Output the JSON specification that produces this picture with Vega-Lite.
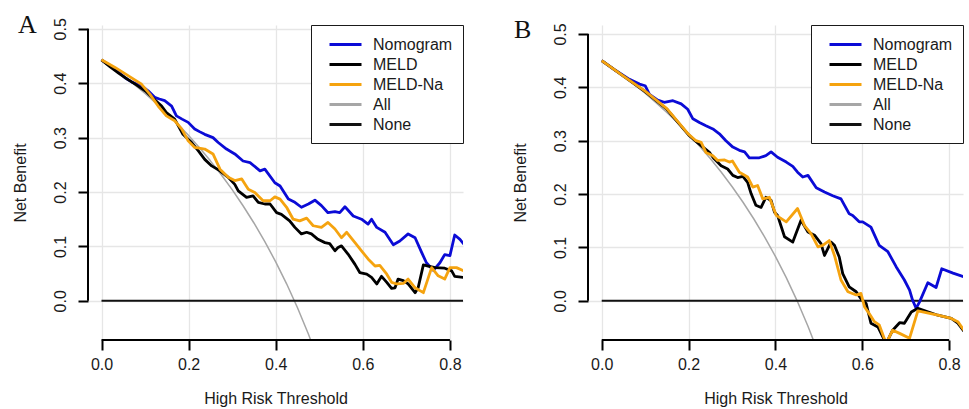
{
  "$schema": "https://vega.github.io/schema/vega-lite/v6.json",
  "background": "white",
  "padding": {"left": 12, "top": 11, "right": 5, "bottom": 2},
  "datasets": {
    "A": [
      {"s":"All","t":0,"v":0.443},{"s":"All","t":0.025,"v":0.4287},{"s":"All","t":0.05,"v":0.4137},{"s":"All","t":0.075,"v":0.3978},{"s":"All","t":0.1,"v":0.3811},{"s":"All","t":0.125,"v":0.3634},{"s":"All","t":0.15,"v":0.3447},{"s":"All","t":0.175,"v":0.3249},{"s":"All","t":0.2,"v":0.3038},{"s":"All","t":0.225,"v":0.2813},{"s":"All","t":0.25,"v":0.2573},{"s":"All","t":0.275,"v":0.2317},{"s":"All","t":0.3,"v":0.2043},{"s":"All","t":0.325,"v":0.1748},{"s":"All","t":0.35,"v":0.1431},{"s":"All","t":0.375,"v":0.1088},{"s":"All","t":0.4,"v":0.0717},{"s":"All","t":0.425,"v":0.0313},{"s":"All","t":0.45,"v":-0.0127},{"s":"All","t":0.475,"v":-0.061},{"s":"All","t":0.5,"v":-0.114},
      {"s":"None","t":0,"v":0},{"s":"None","t":0.83,"v":0},
      {"s":"Nomogram","t":0,"v":0.443},{"s":"Nomogram","t":0.02,"v":0.432},{"s":"Nomogram","t":0.04,"v":0.42},{"s":"Nomogram","t":0.054,"v":0.41},{"s":"Nomogram","t":0.07,"v":0.402},{"s":"Nomogram","t":0.092,"v":0.395},{"s":"Nomogram","t":0.107,"v":0.386},{"s":"Nomogram","t":0.122,"v":0.374},{"s":"Nomogram","t":0.133,"v":0.371},{"s":"Nomogram","t":0.145,"v":0.368},{"s":"Nomogram","t":0.161,"v":0.358},{"s":"Nomogram","t":0.172,"v":0.34},{"s":"Nomogram","t":0.185,"v":0.334},{"s":"Nomogram","t":0.199,"v":0.328},{"s":"Nomogram","t":0.214,"v":0.316},{"s":"Nomogram","t":0.225,"v":0.311},{"s":"Nomogram","t":0.237,"v":0.306},{"s":"Nomogram","t":0.256,"v":0.3},{"s":"Nomogram","t":0.268,"v":0.291},{"s":"Nomogram","t":0.287,"v":0.279},{"s":"Nomogram","t":0.306,"v":0.27},{"s":"Nomogram","t":0.325,"v":0.257},{"s":"Nomogram","t":0.341,"v":0.254},{"s":"Nomogram","t":0.364,"v":0.239},{"s":"Nomogram","t":0.375,"v":0.242},{"s":"Nomogram","t":0.398,"v":0.217},{"s":"Nomogram","t":0.41,"v":0.211},{"s":"Nomogram","t":0.429,"v":0.187},{"s":"Nomogram","t":0.444,"v":0.181},{"s":"Nomogram","t":0.459,"v":0.172},{"s":"Nomogram","t":0.475,"v":0.178},{"s":"Nomogram","t":0.49,"v":0.185},{"s":"Nomogram","t":0.505,"v":0.175},{"s":"Nomogram","t":0.52,"v":0.162},{"s":"Nomogram","t":0.536,"v":0.164},{"s":"Nomogram","t":0.547,"v":0.162},{"s":"Nomogram","t":0.559,"v":0.173},{"s":"Nomogram","t":0.578,"v":0.156},{"s":"Nomogram","t":0.597,"v":0.15},{"s":"Nomogram","t":0.612,"v":0.141},{"s":"Nomogram","t":0.62,"v":0.15},{"s":"Nomogram","t":0.632,"v":0.135},{"s":"Nomogram","t":0.651,"v":0.126},{"s":"Nomogram","t":0.67,"v":0.103},{"s":"Nomogram","t":0.685,"v":0.11},{"s":"Nomogram","t":0.704,"v":0.123},{"s":"Nomogram","t":0.72,"v":0.116},{"s":"Nomogram","t":0.735,"v":0.089},{"s":"Nomogram","t":0.746,"v":0.07},{"s":"Nomogram","t":0.762,"v":0.056},{"s":"Nomogram","t":0.777,"v":0.07},{"s":"Nomogram","t":0.788,"v":0.085},{"s":"Nomogram","t":0.8,"v":0.083},{"s":"Nomogram","t":0.811,"v":0.121},{"s":"Nomogram","t":0.823,"v":0.113},{"s":"Nomogram","t":0.832,"v":0.104},
      {"s":"MELD","t":0,"v":0.443},{"s":"MELD","t":0.02,"v":0.43},{"s":"MELD","t":0.04,"v":0.418},{"s":"MELD","t":0.06,"v":0.407},{"s":"MELD","t":0.08,"v":0.397},{"s":"MELD","t":0.1,"v":0.386},{"s":"MELD","t":0.119,"v":0.372},{"s":"MELD","t":0.138,"v":0.358},{"s":"MELD","t":0.149,"v":0.346},{"s":"MELD","t":0.168,"v":0.334},{"s":"MELD","t":0.187,"v":0.306},{"s":"MELD","t":0.207,"v":0.291},{"s":"MELD","t":0.222,"v":0.276},{"s":"MELD","t":0.237,"v":0.26},{"s":"MELD","t":0.253,"v":0.248},{"s":"MELD","t":0.272,"v":0.239},{"s":"MELD","t":0.291,"v":0.227},{"s":"MELD","t":0.306,"v":0.214},{"s":"MELD","t":0.314,"v":0.202},{"s":"MELD","t":0.333,"v":0.19},{"s":"MELD","t":0.348,"v":0.193},{"s":"MELD","t":0.36,"v":0.181},{"s":"MELD","t":0.375,"v":0.178},{"s":"MELD","t":0.387,"v":0.178},{"s":"MELD","t":0.402,"v":0.162},{"s":"MELD","t":0.413,"v":0.159},{"s":"MELD","t":0.432,"v":0.147},{"s":"MELD","t":0.444,"v":0.135},{"s":"MELD","t":0.459,"v":0.123},{"s":"MELD","t":0.471,"v":0.126},{"s":"MELD","t":0.482,"v":0.123},{"s":"MELD","t":0.497,"v":0.113},{"s":"MELD","t":0.513,"v":0.107},{"s":"MELD","t":0.524,"v":0.105},{"s":"MELD","t":0.536,"v":0.092},{"s":"MELD","t":0.543,"v":0.098},{"s":"MELD","t":0.551,"v":0.101},{"s":"MELD","t":0.566,"v":0.086},{"s":"MELD","t":0.582,"v":0.067},{"s":"MELD","t":0.593,"v":0.052},{"s":"MELD","t":0.609,"v":0.049},{"s":"MELD","t":0.62,"v":0.043},{"s":"MELD","t":0.632,"v":0.031},{"s":"MELD","t":0.643,"v":0.045},{"s":"MELD","t":0.655,"v":0.034},{"s":"MELD","t":0.666,"v":0.023},{"s":"MELD","t":0.674,"v":0.024},{"s":"MELD","t":0.681,"v":0.04},{"s":"MELD","t":0.693,"v":0.037},{"s":"MELD","t":0.704,"v":0.031},{"s":"MELD","t":0.72,"v":0.015},{"s":"MELD","t":0.727,"v":0.024},{"s":"MELD","t":0.739,"v":0.066},{"s":"MELD","t":0.75,"v":0.064},{"s":"MELD","t":0.766,"v":0.061},{"s":"MELD","t":0.788,"v":0.06},{"s":"MELD","t":0.804,"v":0.055},{"s":"MELD","t":0.811,"v":0.045},{"s":"MELD","t":0.832,"v":0.043},
      {"s":"MELD-Na","t":0,"v":0.443},{"s":"MELD-Na","t":0.031,"v":0.429},{"s":"MELD-Na","t":0.061,"v":0.414},{"s":"MELD-Na","t":0.092,"v":0.398},{"s":"MELD-Na","t":0.111,"v":0.38},{"s":"MELD-Na","t":0.13,"v":0.358},{"s":"MELD-Na","t":0.149,"v":0.34},{"s":"MELD-Na","t":0.168,"v":0.331},{"s":"MELD-Na","t":0.184,"v":0.316},{"s":"MELD-Na","t":0.199,"v":0.294},{"s":"MELD-Na","t":0.214,"v":0.282},{"s":"MELD-Na","t":0.237,"v":0.279},{"s":"MELD-Na","t":0.256,"v":0.27},{"s":"MELD-Na","t":0.272,"v":0.242},{"s":"MELD-Na","t":0.291,"v":0.227},{"s":"MELD-Na","t":0.306,"v":0.221},{"s":"MELD-Na","t":0.322,"v":0.224},{"s":"MELD-Na","t":0.337,"v":0.205},{"s":"MELD-Na","t":0.352,"v":0.199},{"s":"MELD-Na","t":0.371,"v":0.184},{"s":"MELD-Na","t":0.387,"v":0.184},{"s":"MELD-Na","t":0.398,"v":0.191},{"s":"MELD-Na","t":0.41,"v":0.187},{"s":"MELD-Na","t":0.425,"v":0.172},{"s":"MELD-Na","t":0.44,"v":0.15},{"s":"MELD-Na","t":0.455,"v":0.147},{"s":"MELD-Na","t":0.471,"v":0.152},{"s":"MELD-Na","t":0.486,"v":0.138},{"s":"MELD-Na","t":0.505,"v":0.135},{"s":"MELD-Na","t":0.52,"v":0.144},{"s":"MELD-Na","t":0.536,"v":0.132},{"s":"MELD-Na","t":0.551,"v":0.116},{"s":"MELD-Na","t":0.563,"v":0.126},{"s":"MELD-Na","t":0.582,"v":0.107},{"s":"MELD-Na","t":0.597,"v":0.092},{"s":"MELD-Na","t":0.612,"v":0.077},{"s":"MELD-Na","t":0.628,"v":0.064},{"s":"MELD-Na","t":0.639,"v":0.065},{"s":"MELD-Na","t":0.655,"v":0.049},{"s":"MELD-Na","t":0.666,"v":0.034},{"s":"MELD-Na","t":0.678,"v":0.031},{"s":"MELD-Na","t":0.693,"v":0.032},{"s":"MELD-Na","t":0.704,"v":0.04},{"s":"MELD-Na","t":0.72,"v":0.024},{"s":"MELD-Na","t":0.739,"v":0.015},{"s":"MELD-Na","t":0.758,"v":0.061},{"s":"MELD-Na","t":0.773,"v":0.046},{"s":"MELD-Na","t":0.788,"v":0.04},{"s":"MELD-Na","t":0.8,"v":0.061},{"s":"MELD-Na","t":0.815,"v":0.061},{"s":"MELD-Na","t":0.832,"v":0.055}
    ],
    "B": [
      {"s":"All","t":0,"v":0.45},{"s":"All","t":0.025,"v":0.4359},{"s":"All","t":0.05,"v":0.4211},{"s":"All","t":0.075,"v":0.4054},{"s":"All","t":0.1,"v":0.3889},{"s":"All","t":0.125,"v":0.3714},{"s":"All","t":0.15,"v":0.3529},{"s":"All","t":0.175,"v":0.3333},{"s":"All","t":0.2,"v":0.3125},{"s":"All","t":0.225,"v":0.2903},{"s":"All","t":0.25,"v":0.2667},{"s":"All","t":0.275,"v":0.2414},{"s":"All","t":0.3,"v":0.2143},{"s":"All","t":0.325,"v":0.1852},{"s":"All","t":0.35,"v":0.1538},{"s":"All","t":0.375,"v":0.12},{"s":"All","t":0.4,"v":0.0833},{"s":"All","t":0.425,"v":0.0435},{"s":"All","t":0.45,"v":0},{"s":"All","t":0.475,"v":-0.0476},{"s":"All","t":0.5,"v":-0.1},
      {"s":"None","t":0,"v":0},{"s":"None","t":0.834,"v":0},
      {"s":"Nomogram","t":0,"v":0.45},{"s":"Nomogram","t":0.033,"v":0.431},{"s":"Nomogram","t":0.064,"v":0.415},{"s":"Nomogram","t":0.087,"v":0.406},{"s":"Nomogram","t":0.1,"v":0.403},{"s":"Nomogram","t":0.11,"v":0.387},{"s":"Nomogram","t":0.129,"v":0.376},{"s":"Nomogram","t":0.144,"v":0.372},{"s":"Nomogram","t":0.164,"v":0.375},{"s":"Nomogram","t":0.183,"v":0.369},{"s":"Nomogram","t":0.198,"v":0.359},{"s":"Nomogram","t":0.21,"v":0.341},{"s":"Nomogram","t":0.225,"v":0.334},{"s":"Nomogram","t":0.24,"v":0.328},{"s":"Nomogram","t":0.256,"v":0.322},{"s":"Nomogram","t":0.271,"v":0.313},{"s":"Nomogram","t":0.286,"v":0.3},{"s":"Nomogram","t":0.302,"v":0.288},{"s":"Nomogram","t":0.317,"v":0.282},{"s":"Nomogram","t":0.329,"v":0.279},{"s":"Nomogram","t":0.34,"v":0.268},{"s":"Nomogram","t":0.363,"v":0.268},{"s":"Nomogram","t":0.378,"v":0.272},{"s":"Nomogram","t":0.39,"v":0.279},{"s":"Nomogram","t":0.405,"v":0.269},{"s":"Nomogram","t":0.425,"v":0.26},{"s":"Nomogram","t":0.44,"v":0.252},{"s":"Nomogram","t":0.451,"v":0.241},{"s":"Nomogram","t":0.463,"v":0.232},{"s":"Nomogram","t":0.475,"v":0.235},{"s":"Nomogram","t":0.494,"v":0.212},{"s":"Nomogram","t":0.513,"v":0.204},{"s":"Nomogram","t":0.532,"v":0.197},{"s":"Nomogram","t":0.551,"v":0.191},{"s":"Nomogram","t":0.57,"v":0.163},{"s":"Nomogram","t":0.578,"v":0.16},{"s":"Nomogram","t":0.593,"v":0.148},{"s":"Nomogram","t":0.601,"v":0.148},{"s":"Nomogram","t":0.62,"v":0.138},{"s":"Nomogram","t":0.639,"v":0.104},{"s":"Nomogram","t":0.659,"v":0.092},{"s":"Nomogram","t":0.678,"v":0.064},{"s":"Nomogram","t":0.697,"v":0.039},{"s":"Nomogram","t":0.709,"v":0.02},{"s":"Nomogram","t":0.716,"v":0.001},{"s":"Nomogram","t":0.724,"v":-0.014},{"s":"Nomogram","t":0.732,"v":-0.002},{"s":"Nomogram","t":0.751,"v":0.034},{"s":"Nomogram","t":0.77,"v":0.025},{"s":"Nomogram","t":0.783,"v":0.06},{"s":"Nomogram","t":0.809,"v":0.052},{"s":"Nomogram","t":0.834,"v":0.045},
      {"s":"MELD","t":0,"v":0.45},{"s":"MELD","t":0.05,"v":0.421},{"s":"MELD","t":0.1,"v":0.392},{"s":"MELD","t":0.15,"v":0.359},{"s":"MELD","t":0.2,"v":0.311},{"s":"MELD","t":0.215,"v":0.3},{"s":"MELD","t":0.233,"v":0.288},{"s":"MELD","t":0.248,"v":0.278},{"s":"MELD","t":0.259,"v":0.266},{"s":"MELD","t":0.275,"v":0.253},{"s":"MELD","t":0.29,"v":0.247},{"s":"MELD","t":0.302,"v":0.235},{"s":"MELD","t":0.313,"v":0.231},{"s":"MELD","t":0.325,"v":0.233},{"s":"MELD","t":0.336,"v":0.222},{"s":"MELD","t":0.344,"v":0.201},{"s":"MELD","t":0.355,"v":0.179},{"s":"MELD","t":0.367,"v":0.175},{"s":"MELD","t":0.378,"v":0.194},{"s":"MELD","t":0.39,"v":0.188},{"s":"MELD","t":0.398,"v":0.166},{"s":"MELD","t":0.405,"v":0.16},{"s":"MELD","t":0.421,"v":0.12},{"s":"MELD","t":0.44,"v":0.11},{"s":"MELD","t":0.459,"v":0.151},{"s":"MELD","t":0.475,"v":0.129},{"s":"MELD","t":0.49,"v":0.123},{"s":"MELD","t":0.505,"v":0.107},{"s":"MELD","t":0.513,"v":0.085},{"s":"MELD","t":0.528,"v":0.11},{"s":"MELD","t":0.536,"v":0.104},{"s":"MELD","t":0.547,"v":0.082},{"s":"MELD","t":0.555,"v":0.051},{"s":"MELD","t":0.57,"v":0.026},{"s":"MELD","t":0.586,"v":0.017},{"s":"MELD","t":0.597,"v":0.004},{"s":"MELD","t":0.609,"v":-0.005},{"s":"MELD","t":0.62,"v":-0.042},{"s":"MELD","t":0.636,"v":-0.049},{"s":"MELD","t":0.655,"v":-0.08},{"s":"MELD","t":0.67,"v":-0.055},{"s":"MELD","t":0.686,"v":-0.041},{"s":"MELD","t":0.697,"v":-0.042},{"s":"MELD","t":0.713,"v":-0.021},{"s":"MELD","t":0.728,"v":-0.014},{"s":"MELD","t":0.774,"v":-0.027},{"s":"MELD","t":0.805,"v":-0.033},{"s":"MELD","t":0.82,"v":-0.042},{"s":"MELD","t":0.834,"v":-0.057},
      {"s":"MELD-Na","t":0,"v":0.45},{"s":"MELD-Na","t":0.05,"v":0.421},{"s":"MELD-Na","t":0.1,"v":0.393},{"s":"MELD-Na","t":0.15,"v":0.36},{"s":"MELD-Na","t":0.2,"v":0.312},{"s":"MELD-Na","t":0.217,"v":0.3},{"s":"MELD-Na","t":0.229,"v":0.297},{"s":"MELD-Na","t":0.24,"v":0.278},{"s":"MELD-Na","t":0.256,"v":0.272},{"s":"MELD-Na","t":0.267,"v":0.263},{"s":"MELD-Na","t":0.283,"v":0.264},{"s":"MELD-Na","t":0.294,"v":0.26},{"s":"MELD-Na","t":0.301,"v":0.262},{"s":"MELD-Na","t":0.317,"v":0.241},{"s":"MELD-Na","t":0.336,"v":0.232},{"s":"MELD-Na","t":0.348,"v":0.213},{"s":"MELD-Na","t":0.359,"v":0.216},{"s":"MELD-Na","t":0.371,"v":0.191},{"s":"MELD-Na","t":0.386,"v":0.194},{"s":"MELD-Na","t":0.402,"v":0.16},{"s":"MELD-Na","t":0.425,"v":0.148},{"s":"MELD-Na","t":0.451,"v":0.173},{"s":"MELD-Na","t":0.467,"v":0.141},{"s":"MELD-Na","t":0.482,"v":0.126},{"s":"MELD-Na","t":0.498,"v":0.101},{"s":"MELD-Na","t":0.509,"v":0.104},{"s":"MELD-Na","t":0.524,"v":0.113},{"s":"MELD-Na","t":0.536,"v":0.085},{"s":"MELD-Na","t":0.551,"v":0.039},{"s":"MELD-Na","t":0.567,"v":0.017},{"s":"MELD-Na","t":0.586,"v":0.011},{"s":"MELD-Na","t":0.597,"v":0.014},{"s":"MELD-Na","t":0.605,"v":-0.011},{"s":"MELD-Na","t":0.616,"v":-0.024},{"s":"MELD-Na","t":0.628,"v":-0.039},{"s":"MELD-Na","t":0.639,"v":-0.045},{"s":"MELD-Na","t":0.655,"v":-0.08},{"s":"MELD-Na","t":0.67,"v":-0.055},{"s":"MELD-Na","t":0.686,"v":-0.061},{"s":"MELD-Na","t":0.709,"v":-0.07},{"s":"MELD-Na","t":0.728,"v":-0.019},{"s":"MELD-Na","t":0.774,"v":-0.027},{"s":"MELD-Na","t":0.805,"v":-0.033},{"s":"MELD-Na","t":0.82,"v":-0.039},{"s":"MELD-Na","t":0.834,"v":-0.055}
    ]
  },
  "hconcat": [
    {
      "title": {"text": "A", "anchor": "start", "frame": "bounds", "font": "Liberation Serif", "fontSize": 26, "fontWeight": "normal", "color": "#111111", "offset": 0, "dy": 20, "dx": 6},
      "width": 375,
      "height": 315,
      "layer": [
        {
          "data": {"name": "A"},
          "mark": {"type": "line", "clip": true, "strokeJoin": "round"},
          "encoding": {
            "x": {"field": "t", "type": "quantitative", "scale": {"domain": [-0.031, 0.83], "nice": false, "zero": false},
                  "axis": {"values": [0, 0.2, 0.4, 0.6, 0.8], "format": ".1f", "title": "High Risk Threshold", "labelPadding": 6, "titlePadding": 18, "labelFlush": false, "ticks": true, "tickColor": "black", "tickSize": 10, "tickWidth": 2, "tickOpacity": 1}},
            "y": {"field": "v", "type": "quantitative", "scale": {"domain": [-0.072, 0.507], "nice": false, "zero": false},
                  "axis": {"values": [0, 0.1, 0.2, 0.3, 0.4, 0.5], "format": ".1f", "title": "Net Benefit", "labelAngle": 270, "labelAlign": "center", "labelBaseline": "bottom", "labelPadding": 10, "titlePadding": 24, "labelFlush": false, "ticks": true, "tickColor": "black", "tickSize": 10, "tickWidth": 2, "tickOpacity": 1}},
            "color": {"field": "s", "type": "nominal", "scale": {"domain": ["Nomogram", "MELD", "MELD-Na", "All", "None"], "range": ["#0b0bd6", "#000000", "#f5a30f", "#a6a6a6", "#111111"]}},
            "strokeWidth": {"condition": [{"test": "datum.s === 'All'", "value": 1.5}, {"test": "datum.s === 'None'", "value": 2}], "value": 2.8}
          }
        },
        {
          "data": {"values": [{"k": 1}]},
          "mark": {"type": "rule", "stroke": "black", "strokeWidth": 2, "opacity": 1},
          "encoding": {"x": {"datum": -0.031, "type": "quantitative"}, "y": {"datum": 0, "type": "quantitative"}, "y2": {"datum": 0.5}}
        },
        {
          "data": {"values": [{"k": 1}]},
          "mark": {"type": "rule", "stroke": "black", "strokeWidth": 2, "opacity": 1},
          "encoding": {"y": {"datum": -0.072, "type": "quantitative"}, "x": {"datum": 0, "type": "quantitative"}, "x2": {"datum": 0.8}}
        }
      ]
    },
    {
      "title": {"text": "B", "anchor": "start", "frame": "bounds", "font": "Liberation Serif", "fontSize": 26, "fontWeight": "normal", "color": "#111111", "offset": 0, "dy": 20, "dx": 2},
      "width": 375,
      "height": 315,
      "layer": [
        {
          "data": {"name": "B"},
          "mark": {"type": "line", "clip": true, "strokeJoin": "round"},
          "encoding": {
            "x": {"field": "t", "type": "quantitative", "scale": {"domain": [-0.0316, 0.832], "nice": false, "zero": false},
                  "axis": {"values": [0, 0.2, 0.4, 0.6, 0.8], "format": ".1f", "title": "High Risk Threshold", "labelPadding": 6, "titlePadding": 18, "labelFlush": false, "ticks": true, "tickColor": "black", "tickSize": 10, "tickWidth": 2, "tickOpacity": 1}},
            "y": {"field": "v", "type": "quantitative", "scale": {"domain": [-0.0734, 0.5168], "nice": false, "zero": false},
                  "axis": {"values": [0, 0.1, 0.2, 0.3, 0.4, 0.5], "format": ".1f", "title": "Net Benefit", "labelAngle": 270, "labelAlign": "center", "labelBaseline": "bottom", "labelPadding": 10, "titlePadding": 24, "labelFlush": false, "ticks": true, "tickColor": "black", "tickSize": 10, "tickWidth": 2, "tickOpacity": 1}},
            "color": {"field": "s", "type": "nominal", "scale": {"domain": ["Nomogram", "MELD", "MELD-Na", "All", "None"], "range": ["#0b0bd6", "#000000", "#f5a30f", "#a6a6a6", "#111111"]}},
            "strokeWidth": {"condition": [{"test": "datum.s === 'All'", "value": 1.5}, {"test": "datum.s === 'None'", "value": 2}], "value": 2.8}
          }
        },
        {
          "data": {"values": [{"k": 1}]},
          "mark": {"type": "rule", "stroke": "black", "strokeWidth": 2, "opacity": 1},
          "encoding": {"x": {"datum": -0.0316, "type": "quantitative"}, "y": {"datum": 0, "type": "quantitative"}, "y2": {"datum": 0.5}}
        },
        {
          "data": {"values": [{"k": 1}]},
          "mark": {"type": "rule", "stroke": "black", "strokeWidth": 2, "opacity": 1},
          "encoding": {"y": {"datum": -0.0734, "type": "quantitative"}, "x": {"datum": 0, "type": "quantitative"}, "x2": {"datum": 0.8}}
        }
      ]
    }
  ],
  "spacing": 47,
  "resolve": {"scale": {"color": "independent"}, "legend": {"color": "independent"}},
  "config": {
    "view": {"stroke": null},
    "font": "Liberation Sans",
    "axis": {
      "domain": false,
      "labelFont": "Liberation Sans", "labelFontSize": 16, "labelColor": "#1a1a1a",
      "titleFont": "Liberation Sans", "titleFontSize": 16, "titleFontWeight": "normal", "titleColor": "#1a1a1a",
      "grid": true, "gridColor": "#e6e6e6", "gridWidth": 1.3
    },
    "legend": {
      "orient": "top-right", "offset": 0, "title": null,
      "strokeColor": "#1a1a1a", "fillColor": "white", "padding": 10,
      "symbolType": "M-2,0L2,0", "symbolSize": 256, "symbolStrokeWidth": 3, "symbolOffset": 15,
      "labelOffset": 18, "labelFont": "Liberation Sans", "labelFontSize": 16, "labelColor": "#1a1a1a",
      "rowPadding": 2
    }
  }
}
